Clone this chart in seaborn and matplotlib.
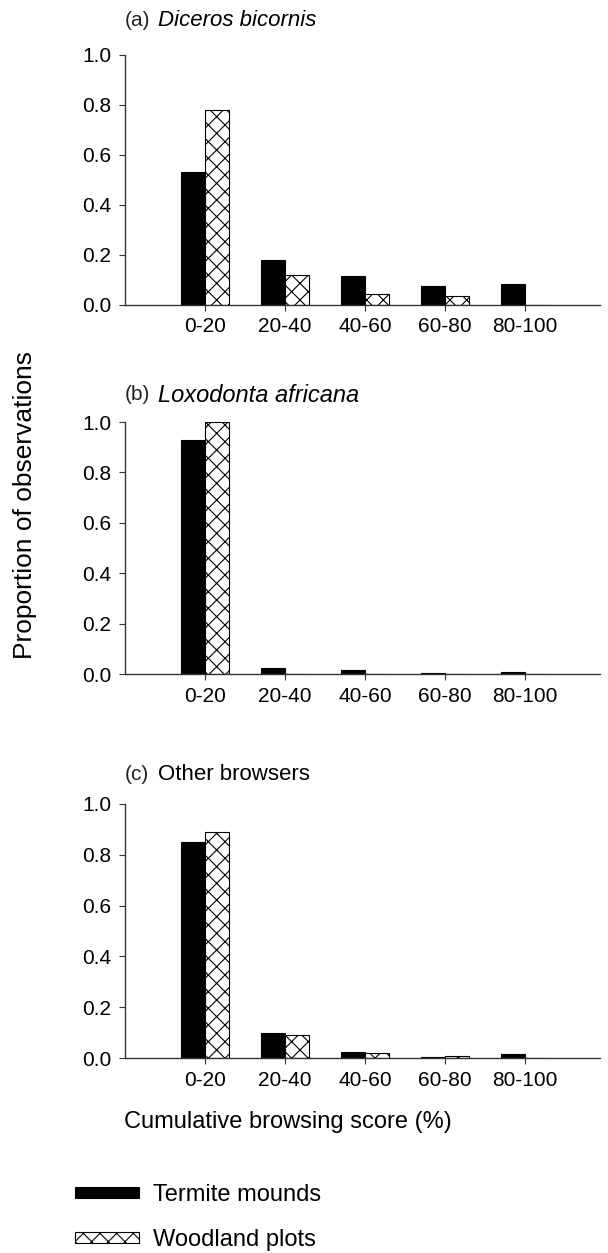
import numpy as np
import pandas as pd
import matplotlib
matplotlib.use("Agg")
import matplotlib.pyplot as plt
from matplotlib.patches import Patch
import seaborn as sns

# ---- data ----
categories = ["0-20", "20-40", "40-60", "60-80", "80-100"]
groups = ["Termite mounds", "Woodland plots"]

diceros_termite = [0.53, 0.18, 0.115, 0.075, 0.085]
diceros_woodland = [0.78, 0.12, 0.045, 0.035, 0.0]

loxodonta_termite = [0.93, 0.025, 0.015, 0.003, 0.006]
loxodonta_woodland = [1.0, 0.0, 0.0, 0.0, 0.0]

other_termite = [0.85, 0.10, 0.025, 0.003, 0.015]
other_woodland = [0.89, 0.09, 0.018, 0.007, 0.0]

panel_labels = ["(a)", "(b)", "(c)"]
panel_names = ["Diceros bicornis", "Loxodonta africana", "Other browsers"]
panel_italic = [True, True, False]
yticks = [0.0, 0.2, 0.4, 0.6, 0.8, 1.0]


def make_frame(termite, woodland):
    return pd.DataFrame({
        "category": categories * 2,
        "group": [groups[0]] * len(categories) + [groups[1]] * len(categories),
        "value": list(termite) + list(woodland),
    })


panels = [
    make_frame(diceros_termite, diceros_woodland),
    make_frame(loxodonta_termite, loxodonta_woodland),
    make_frame(other_termite, other_woodland),
]

sns.set_theme(style="white")
plt.rcParams["font.family"] = ["Liberation Sans", "DejaVu Sans"]
plt.rcParams["hatch.linewidth"] = 0.8
plt.rcParams["text.color"] = "black"
plt.rcParams["xtick.color"] = "black"
plt.rcParams["ytick.color"] = "black"

W, H = 608, 1253
fig = plt.figure(figsize=(W / 100, H / 100), dpi=100)

# axes boxes in pixels: (top, bottom)
boxes = [(55, 305), (422, 674), (804, 1058)]
left_px, right_px = 125, 600
title_y = [20, 395, 775]
name_size = [16, 17, 16]

for i, df in enumerate(panels):
    top, bot = boxes[i]
    ax = fig.add_axes([left_px / W, 1 - bot / H, (right_px - left_px) / W, (bot - top) / H])
    sns.barplot(data=df, x="category", y="value", hue="group", order=categories,
                hue_order=groups, palette=["black", "white"], width=0.6,
                edgecolor="black", linewidth=0.8, saturation=1, legend=False, ax=ax)
    for bar in ax.containers[1]:
        bar.set_hatch("xx")
        bar.set_facecolor("white")
        bar.set_edgecolor("black")
    ax.set_xlim(-1, 4.94)
    ax.set_ylim(0, 1)
    ax.set_yticks(yticks)
    ax.set_yticklabels([f"{t:.1f}" for t in yticks])
    ax.set_xlabel("")
    ax.set_ylabel("")
    sns.despine(ax=ax)
    for s in ["left", "bottom"]:
        ax.spines[s].set_color("#333333")
        ax.spines[s].set_linewidth(1.0)
    ax.tick_params(axis="both", which="both", direction="out", length=4, width=0.8,
                   color="#333333", labelcolor="black", labelsize=15,
                   left=True, bottom=True)
    ax.tick_params(axis="y", pad=6)
    ax.tick_params(axis="x", pad=5)

    fig.text(125 / W, 1 - title_y[i] / H, panel_labels[i], fontsize=15,
             ha="left", va="center", color="#222222")
    fig.text(158 / W, 1 - title_y[i] / H, panel_names[i], fontsize=name_size[i],
             style="italic" if panel_italic[i] else "normal",
             ha="left", va="center")

fig.text(25 / W, 1 - 505 / H, "Proportion of observations", rotation=90,
         fontsize=19, ha="center", va="center")
fig.text(288 / W, 1 - 1122 / H, "Cumulative browsing score (%)", fontsize=17,
         ha="center", va="center")

handles = [
    Patch(facecolor="black", edgecolor="black", linewidth=0.8),
    Patch(facecolor="white", edgecolor="black", hatch="xx", linewidth=0.8),
]
fig.legend(handles, groups, loc="upper left", bbox_to_anchor=(54 / W, 1 - 1163 / H),
           frameon=False, fontsize=17, handlelength=2.7, handleheight=0.35,
           handletextpad=0.6, labelspacing=0.95)

fig.savefig("out.png", dpi=100)
